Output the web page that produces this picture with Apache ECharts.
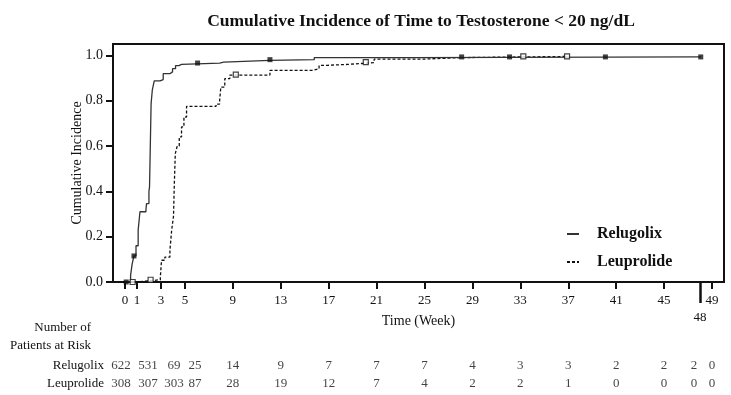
<!DOCTYPE html>
<html><head><meta charset="utf-8">
<script src="https://cdn.jsdelivr.net/npm/echarts@6/dist/echarts.min.js"></script>
<style>html,body{margin:0;padding:0;background:#fff}#c{width:731px;height:395px}</style>
</head><body><div id="c"></div>
<script>
// ---- data ----
const xTicks = [0, 1, 3, 5, 9, 13, 17, 21, 25, 29, 33, 37, 41, 45, 49];
const xTickLong = [48];
const yTicks = [0, 0.2, 0.4, 0.6, 0.8, 1.0];

const relTime = [0, 0.47, 0.6, 0.75, 0.92, 1.1, 1.17, 1.25, 1.75, 1.8, 2.0, 2.05, 2.18, 2.28, 2.44, 2.92, 3.19, 3.75, 3.97, 4.22, 4.5, 4.72, 7.9, 8.25, 12.1, 15.8, 24, 48.06];
const relCI   = [0, 0.03, 0.08, 0.115, 0.16, 0.23, 0.266, 0.31, 0.32, 0.346, 0.40, 0.42, 0.787, 0.846, 0.887, 0.893, 0.919, 0.927, 0.941, 0.955, 0.96, 0.966, 0.97, 0.978, 0.981, 0.99, 0.993, 0.993];

const leuTime = [0, 1.0, 2.0, 2.95, 3.05, 3.33, 3.75, 3.9, 4.05, 4.12, 4.2, 4.36, 4.53, 4.72, 4.92, 5.14, 7.6, 7.9, 8.0, 8.33, 8.75, 12.1, 15.7, 16.2, 16.9, 18.6, 20.8, 24.8, 28.1, 36.9];
const leuCI   = [0, 0.005, 0.01, 0.02, 0.096, 0.11, 0.14, 0.23, 0.29, 0.434, 0.566, 0.6, 0.64, 0.684, 0.728, 0.775, 0.785, 0.80, 0.86, 0.897, 0.913, 0.934, 0.941, 0.956, 0.96, 0.968, 0.983, 0.99, 0.995, 0.995];

const relCensorTime = [0.1, 0.75, 6.06, 12.1, 28.1, 32.1, 40.1, 48.06];
const relCensorCI   = [0, 0.115, 0.966, 0.981, 0.993, 0.993, 0.993, 0.993];
const leuCensorTime = [0.64, 2.14, 9.25, 20.1, 33.25, 36.9];
const leuCensorCI   = [0, 0.01, 0.915, 0.97, 0.995, 0.995];

const riskTimes = [0, 1, 3, 5, 9, 13, 17, 21, 25, 29, 33, 37, 41, 45, 48, 49];
const relRisk = [622, 531, 69, 25, 14, 9, 7, 7, 7, 4, 3, 3, 2, 2, 2, 0];
const leuRisk = [308, 307, 303, 87, 28, 19, 12, 7, 4, 2, 2, 1, 0, 0, 0, 0];
const groups = ['Leuprolide', 'Relugolix'];

// ---- styling ----
const SERIF = 'Liberation Serif, Times New Roman, serif';
const INK = '#111';
const riskLabelShift = [-4, 11, 13, 10, 0, 0, 0, 0, 0, 0, 0, 0, 0, 0, -6, 0];

const pairs = (a, b) => a.map((t, i) => [t, b[i]]);
const riskData = (vals, name) => vals.map((v, i) => ({
  value: [riskTimes[i], name, v],
  label: { offset: [riskLabelShift[i], 0] }
}));

const chart = echarts.init(document.getElementById('c'), null, { renderer: 'canvas' });
chart.setOption({
  animation: false,
  backgroundColor: '#fff',
  title: {
    text: 'Cumulative Incidence of Time to Testosterone < 20 ng/dL',
    left: 416, top: 7, textAlign: 'center',
    textStyle: { fontFamily: SERIF, fontWeight: 'bold', fontSize: 17.5, color: INK }
  },
  graphic: [{
    type: 'text', x: 91, y: 318,
    style: { text: 'Number of\nPatients at Risk', textAlign: 'right', fontFamily: SERIF, fontSize: 13, lineHeight: 18.6, fill: INK }
  }],
  legend: {
    orient: 'vertical', left: 561, top: 221,
    itemWidth: 12, itemHeight: 14, itemGap: 12,
    data: ['Relugolix', 'Leuprolide'],
    itemStyle: { opacity: 0 },
    textStyle: { fontFamily: SERIF, fontWeight: 'bold', fontSize: 16, color: INK, padding: [0, 0, 0, 13] }
  },
  grid: [
    { left: 113, width: 611, top: 44, height: 238, show: true, borderColor: INK, borderWidth: 2, backgroundColor: 'transparent' },
    { left: 113, width: 611, top: 357, height: 35 }
  ],
  xAxis: [
    {
      gridIndex: 0, type: 'value', min: -1, max: 50,
      name: 'Time (Week)', nameLocation: 'middle', nameGap: 32,
      nameTextStyle: { fontFamily: SERIF, fontSize: 14, color: INK },
      axisLine: { onZero: false, lineStyle: { color: INK, width: 2 } },
      axisTick: { customValues: xTicks, length: 7, lineStyle: { color: INK, width: 2 } },
      axisLabel: { customValues: xTicks, margin: 12, fontFamily: SERIF, fontSize: 13, color: INK },
      splitLine: { show: false }
    },
    {
      gridIndex: 0, type: 'value', min: -1, max: 50, position: 'bottom', offset: 0,
      axisLine: { show: false, onZero: false },
      axisTick: { customValues: xTickLong, length: 21, lineStyle: { color: INK, width: 2.5 } },
      axisLabel: { customValues: xTickLong, margin: 29, fontFamily: SERIF, fontSize: 13, color: INK },
      splitLine: { show: false }
    },
    { gridIndex: 1, type: 'value', min: -1, max: 50, show: false }
  ],
  yAxis: [
    {
      gridIndex: 0, type: 'value', min: 0, max: 1.05,
      name: 'Cumulative Incidence', nameLocation: 'middle', nameGap: 29, nameMoveOverlap: false,
      nameTextStyle: { fontFamily: SERIF, fontSize: 14, color: INK },
      axisLine: { show: true, onZero: false, lineStyle: { color: INK, width: 2 } },
      axisTick: { show: true, customValues: yTicks, length: 7, lineStyle: { color: INK, width: 2 } },
      axisLabel: { customValues: yTicks, margin: 10, fontFamily: SERIF, fontSize: 14, color: INK, formatter: v => v.toFixed(1) },
      splitLine: { show: false }
    },
    {
      gridIndex: 1, type: 'category', data: groups,
      axisLine: { show: false }, axisTick: { show: false },
      axisLabel: { margin: 9, fontFamily: SERIF, fontSize: 13, color: INK },
      splitLine: { show: false }
    }
  ],
  series: [
    {
      name: 'Leuprolide', type: 'line', step: 'end', symbol: 'none',
      xAxisIndex: 0, yAxisIndex: 0,
      data: pairs(leuTime, leuCI),
      lineStyle: { color: INK, width: 1.3, type: [3, 2] },
      itemStyle: { color: INK }, z: 2
    },
    {
      name: 'Relugolix', type: 'line', step: 'end', symbol: 'none',
      xAxisIndex: 0, yAxisIndex: 0,
      data: pairs(relTime, relCI),
      lineStyle: { color: '#333', width: 1.3 },
      itemStyle: { color: '#333' }, z: 3
    },
    {
      type: 'scatter', xAxisIndex: 0, yAxisIndex: 0, symbol: 'rect', symbolSize: 5,
      data: pairs(leuCensorTime, leuCensorCI),
      itemStyle: { color: '#fff', borderColor: INK, borderWidth: 1.2 }, z: 4, silent: true
    },
    {
      type: 'scatter', xAxisIndex: 0, yAxisIndex: 0, symbol: 'rect', symbolSize: 5,
      data: pairs(relCensorTime, relCensorCI),
      itemStyle: { color: INK }, z: 5, silent: true
    },
    {
      type: 'scatter', xAxisIndex: 2, yAxisIndex: 1, symbolSize: 0,
      data: riskData(relRisk, 'Relugolix'),
      label: { show: true, position: 'inside', formatter: p => String(p.value[2]), fontFamily: SERIF, fontSize: 13, color: INK },
      silent: true
    },
    {
      type: 'scatter', xAxisIndex: 2, yAxisIndex: 1, symbolSize: 0,
      data: riskData(leuRisk, 'Leuprolide'),
      label: { show: true, position: 'inside', formatter: p => String(p.value[2]), fontFamily: SERIF, fontSize: 13, color: INK },
      silent: true
    }
  ]
});
</script>
</body></html>
